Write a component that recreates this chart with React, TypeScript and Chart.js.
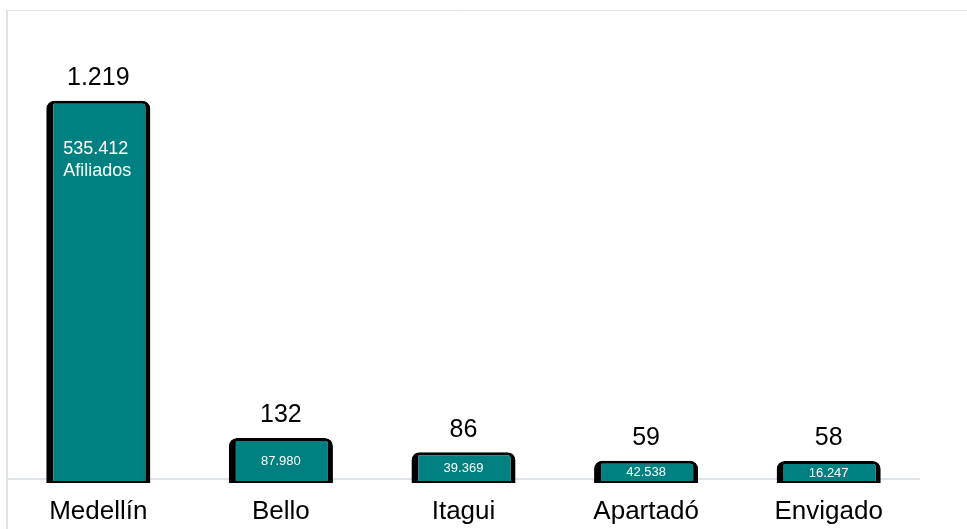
import React, { useEffect, useRef } from 'react';
import { Chart, registerables } from 'chart.js';

Chart.register(...registerables);

const categories = ['Medellín', 'Bello', 'Itagui', 'Apartadó', 'Envigado'];
const consultas = [1219, 132, 86, 59, 58];
const afiliados = [535412, 87980, 39369, 42538, 16247];
const innerSuffix = ['Afiliados', '', '', '', ''];

const Y_MIN = -13;
const Y_MAX = 1511;
const FONT = '"Liberation Sans", Arial, Helvetica, sans-serif';
const GRID = '#dfe3ea';
const TEAL = '#008080';

function fmt(n: number): string {
  return String(n).replace(/\B(?=(\d{3})+(?!\d))/g, '.');
}

const labelPlugin = {
  id: 'barLabels',
  afterDraw(chart: any) {
    const ctx = chart.ctx as CanvasRenderingContext2D;
    const meta = chart.getDatasetMeta(0);
    meta.data.forEach((bar: any, i: number) => {
      const { x, y, base, width } = bar.getProps(['x', 'y', 'base', 'width'], true);
      ctx.save();
      ctx.fillStyle = '#000';
      ctx.textAlign = 'center';
      ctx.textBaseline = 'alphabetic';
      ctx.font = `25px ${FONT}`;
      ctx.fillText(fmt(consultas[i]), x, y - 15.5);
      ctx.fillStyle = '#ffffff';
      if (innerSuffix[i]) {
        ctx.font = `18px ${FONT}`;
        ctx.textAlign = 'left';
        const lx = x - width / 2 + 17;
        ctx.fillText(fmt(afiliados[i]), lx, y + 53);
        ctx.fillText(innerSuffix[i], lx, y + 75);
      } else {
        ctx.font = `13px ${FONT}`;
        ctx.textBaseline = 'middle';
        ctx.fillText(fmt(afiliados[i]), x, (y + base) / 2 + 1);
      }
      ctx.restore();
    });
  },
};

export default function App() {
  const ref = useRef<HTMLCanvasElement | null>(null);

  useEffect(() => {
    if (!ref.current) return;
    const chart = new Chart(ref.current, {
      type: 'bar',
      data: {
        labels: categories,
        datasets: [
          {
            data: consultas,
            base: Y_MIN,
            backgroundColor: TEAL,
            borderColor: '#000000',
            borderWidth: { top: 3, left: 7, right: 5, bottom: 2 } as any,
            borderSkipped: false,
            borderRadius: { topLeft: 8, topRight: 8, bottomLeft: 0, bottomRight: 0 },
            inflateAmount: 0,
            categoryPercentage: 1,
            barPercentage: 0.57,
          } as any,
        ],
      },
      options: {
        animation: false,
        responsive: false,
        maintainAspectRatio: false,
        layout: { padding: { left: 7, top: 10, right: 0, bottom: 0 } },
        plugins: {
          legend: { display: false },
          tooltip: { enabled: false },
        },
        scales: {
          x: {
            offset: true,
            border: { display: false },
            afterFit: (axis: any) => {
              axis.height = 46;
            },
            grid: {
              offset: true,
              drawTicks: true,
              tickLength: 46,
              lineWidth: 2,
              color: (c: any) => (c.index === 0 ? GRID : 'rgba(0,0,0,0)'),
            },
            ticks: {
              padding: -33,
              color: '#000',
              font: { size: 26, family: FONT },
              maxRotation: 0,
              autoSkip: false,
            },
          },
          y: {
            position: 'right',
            min: Y_MIN,
            max: Y_MAX,
            z: 1,
            border: { display: false },
            afterBuildTicks: (axis: any) => {
              axis.ticks = [{ value: 0 }, { value: Y_MAX }];
            },
            grid: {
              drawTicks: true,
              tickLength: 47,
              lineWidth: (c: any) => (c.tick && c.tick.value === 0 ? 2 : 1),
              color: GRID,
              tickColor: (c: any) => (c.tick && c.tick.value === Y_MAX ? GRID : 'rgba(0,0,0,0)'),
            },
            ticks: { display: false },
          },
        },
      } as any,
      plugins: [labelPlugin],
    });
    return () => chart.destroy();
  }, []);

  return (
    <div style={{ position: 'fixed', left: 0, top: 0, width: 967, height: 529, background: '#fff' }}>
      <canvas ref={ref} width={967} height={529} style={{ display: 'block' }} />
    </div>
  );
}
